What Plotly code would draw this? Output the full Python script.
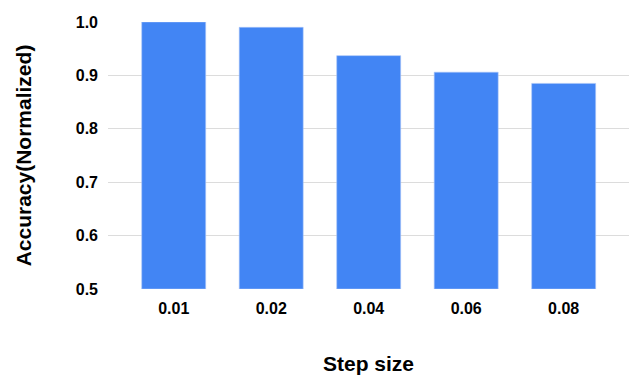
import plotly.graph_objects as go

categories = ["0.01", "0.02", "0.04", "0.06", "0.08"]
accuracy = [1.0, 0.99, 0.937, 0.906, 0.885]
axis_floor = 0.5
y_ticks = [0.5, 0.6, 0.7, 0.8, 0.9, 1.0]
y_tick_labels = ["0.5", "0.6", "0.7", "0.8", "0.9", "1.0"]

fig = go.Figure(
    go.Bar(
        x=categories,
        y=[v - axis_floor for v in accuracy],
        base=axis_floor,
        marker=dict(color="#4285F4", line=dict(color="#a8c4f8", width=0.6)),
    )
)

font = "Liberation Sans, Arial, sans-serif"
fig.update_layout(
    width=629,
    height=377,
    margin=dict(l=108, r=0, t=22, b=88, autoexpand=False),
    plot_bgcolor="white",
    paper_bgcolor="white",
    bargap=0.344,
    showlegend=False,
    font=dict(family=font, color="#000000"),
)
fig.update_xaxes(
    type="category",
    automargin=False,
    range=[-0.674, 4.67],
    showgrid=False,
    showline=False,
    ticks="",
    tickfont=dict(size=16, family=font, color="#000000", weight="bold"),
    ticklabelstandoff=8,
    title=dict(text="<b>Step size</b>", font=dict(size=21, family=font, color="#000000"), standoff=40),
)
fig.update_yaxes(
    automargin=False,
    range=[0.5, 1.0],
    tickvals=y_ticks,
    ticktext=y_tick_labels,
    showgrid=True,
    gridcolor="#dcdcdc",
    gridwidth=1,
    zeroline=False,
    showline=False,
    ticks="",
    tickfont=dict(size=16, family=font, color="#000000", weight="bold"),
    ticklabelstandoff=9,
    title=dict(text="<b>Accuracy(Normalized)</b>", font=dict(size=21, family=font, color="#000000"), standoff=38),
)

fig.write_html(
    "out.html",
    config={"displayModeBar": False},
    post_script="document.body.style.margin='0';document.body.style.padding='0';",
)
